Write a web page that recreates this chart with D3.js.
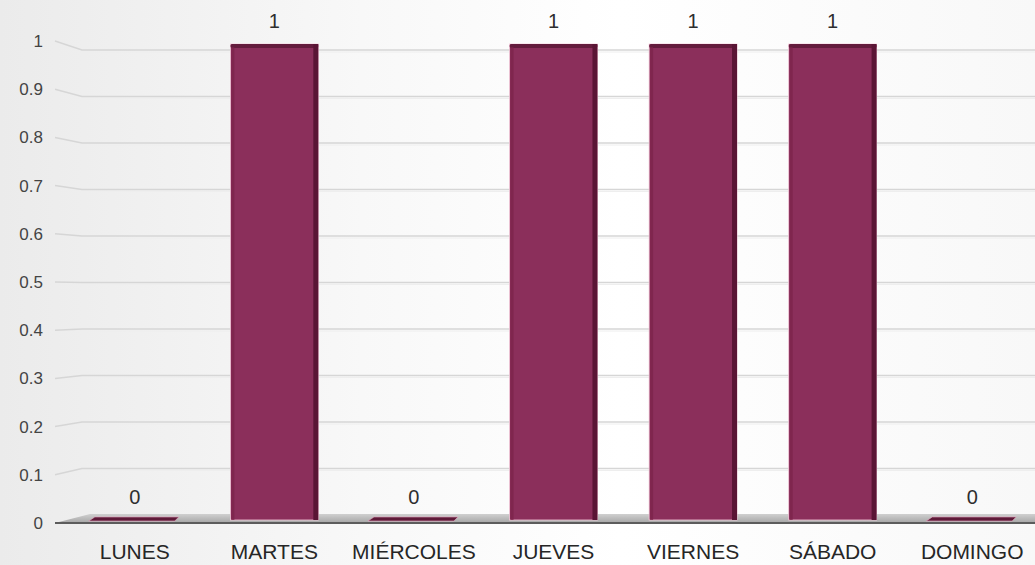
<!DOCTYPE html>
<html>
<head>
    <meta charset="utf-8" />
    <script src="https://d3js.org/d3.v7.min.js"></script>
    <style>
        body { margin: 0; background: #fff; }
        text { font-family: "Liberation Sans", Arial, sans-serif; }
    </style>
</head>
<body>
    <script type="text/javascript">
        // data
        var days = ["LUNES", "MARTES", "MIÉRCOLES", "JUEVES", "VIERNES", "SÁBADO", "DOMINGO"];
        var values = [0, 1, 0, 1, 1, 1, 0];
        var ticks = [0, 0.1, 0.2, 0.3, 0.4, 0.5, 0.6, 0.7, 0.8, 0.9, 1];

        var w = 1035,
            h = 565;

        var rows = days.map(function(d, i){ return {day: d, value: values[i]}; });

        var svg = d3.select("body")
                    .append("svg")
                    .attr("width", w)
                    .attr("height", h);

        var defs = svg.append("defs");

        var bg = defs.append("linearGradient").attr("id", "bg")
                     .attr("x1", "0").attr("x2", "1").attr("y1", "0").attr("y2", "0");
        bg.append("stop").attr("offset", "0%").attr("stop-color", "#ebebeb");
        bg.append("stop").attr("offset", "35%").attr("stop-color", "#f8f8f8");
        bg.append("stop").attr("offset", "60%").attr("stop-color", "#ffffff");
        bg.append("stop").attr("offset", "100%").attr("stop-color", "#f8f8f8");

        var floorGrad = defs.append("linearGradient").attr("id", "floor")
                     .attr("x1", "0").attr("x2", "0").attr("y1", "0").attr("y2", "1");
        floorGrad.append("stop").attr("offset", "0%").attr("stop-color", "#d0d0d0");
        floorGrad.append("stop").attr("offset", "100%").attr("stop-color", "#a5a5a5");

        svg.append("rect")
           .attr("width", w).attr("height", h)
           .attr("fill", "url(#bg)");

        // front plane (labels, left edge), back plane (gridlines) and bar scale
        var yFront = d3.scaleLinear().domain([0, 1]).range([523, 41]);
        var yBack = d3.scaleLinear().domain([0, 1]).range([515, 50]);
        var yBar = d3.scaleLinear().domain([0, 1]).range([520, 44]);

        var x = d3.scaleBand()
                  .domain(days)
                  .range([65, 1042])
                  .paddingInner(0.37)
                  .paddingOuter(0.185);

        var leftX = 55, backX = 82;

        // gridlines on back wall + slanted left wall part
        var grid = svg.append("g");
        grid.selectAll(".gl")
            .data(ticks.filter(function(d){ return d > 0; }))
            .enter()
            .append("path")
            .attr("d", function(d){
                return "M" + leftX + "," + yFront(d) + "L" + backX + "," + yBack(d) + "L" + w + "," + yBack(d);
            })
            .attr("fill", "none")
            .attr("stroke", "#d6d6d6")
            .attr("stroke-width", 1.5);

        grid.selectAll(".gl2")
            .data(ticks.filter(function(d){ return d > 0; }))
            .enter()
            .append("line")
            .attr("x1", backX).attr("x2", w)
            .attr("y1", function(d){ return yBack(d) + 2; })
            .attr("y2", function(d){ return yBack(d) + 2; })
            .attr("stroke", "#eeeeee")
            .attr("stroke-width", 1);

        // floor
        svg.append("path")
           .attr("d", "M" + leftX + "," + yFront(0) + "L" + (backX + 8) + "," + (yBack(0) - 1) +
                      "L" + w + "," + (yBack(0) - 1) + "L" + w + "," + yFront(0) + "Z")
           .attr("fill", "url(#floor)");
        svg.append("line")
           .attr("x1", leftX).attr("x2", w)
           .attr("y1", yFront(0)).attr("y2", yFront(0))
           .attr("stroke", "#5c5c5c")
           .attr("stroke-width", 2);

        // tick labels
        svg.append("g").selectAll("text")
           .data(ticks)
           .enter()
           .append("text")
           .attr("x", 43)
           .attr("y", function(d){ return yFront(d); })
           .attr("dy", "0.35em")
           .attr("text-anchor", "end")
           .attr("font-size", 17)
           .attr("fill", "#444444")
           .text(function(d){ return d3.format("")(d); });

        // bars
        var bw = x.bandwidth();
        var bars = svg.append("g").selectAll("g")
                      .data(rows)
                      .enter()
                      .append("g");

        var full = bars.filter(function(d){ return d.value > 0; });
        var empty = bars.filter(function(d){ return d.value <= 0; });

        full.append("rect")
            .attr("x", function(d){ return x(d.day); })
            .attr("y", function(d){ return yBar(d.value); })
            .attr("width", bw)
            .attr("height", function(d){ return yBar(0) - yBar(d.value); })
            .attr("fill", "#8b2f5b")
            .attr("stroke", "#f4cbdb")
            .attr("stroke-width", 0.8);

        // top face
        full.append("rect")
            .attr("x", function(d){ return x(d.day); })
            .attr("y", function(d){ return yBar(d.value); })
            .attr("width", bw)
            .attr("height", 4)
            .attr("rx", 2)
            .attr("fill", "#641c3d");

        // right side face
        full.append("rect")
            .attr("x", function(d){ return x(d.day) + bw - 5; })
            .attr("y", function(d){ return yBar(d.value); })
            .attr("width", 5)
            .attr("height", function(d){ return yBar(0) - yBar(d.value); })
            .attr("fill", "#5a1535");

        // left edge shade
        full.append("rect")
            .attr("x", function(d){ return x(d.day) + 1; })
            .attr("y", function(d){ return yBar(d.value) + 3; })
            .attr("width", 3)
            .attr("height", function(d){ return yBar(0) - yBar(d.value) - 3; })
            .attr("fill", "#7a2249")
            .attr("opacity", 0.7);

        // zero-height bars: thin slab on the floor
        empty.append("path")
             .attr("d", function(d){
                 var x0 = x(d.day), y0 = yBar(d.value);
                 return "M" + (x0 - 2) + "," + (y0 + 1) + "L" + (x0 + 4) + "," + (y0 - 3) +
                        "L" + (x0 + bw) + "," + (y0 - 3) + "L" + (x0 + bw - 4) + "," + (y0 + 1) + "Z";
             })
             .attr("fill", "#5e1a38")
             .attr("stroke", "#e7a9c2")
             .attr("stroke-width", 0.6);

        // value labels
        bars.append("text")
            .attr("x", function(d){ return x(d.day) + bw / 2; })
            .attr("y", function(d){ return yBar(d.value) - 16; })
            .attr("text-anchor", "middle")
            .attr("font-size", 20)
            .attr("fill", "#2e2e2e")
            .text(function(d){ return d.value; });

        // category labels
        svg.append("g").selectAll("text")
           .data(days)
           .enter()
           .append("text")
           .attr("x", function(d){ return x(d) + bw / 2; })
           .attr("y", 559)
           .attr("text-anchor", "middle")
           .attr("font-size", 21)
           .attr("fill", "#262626")
           .text(function(d){ return d; });
    </script>
</body>
</html>
